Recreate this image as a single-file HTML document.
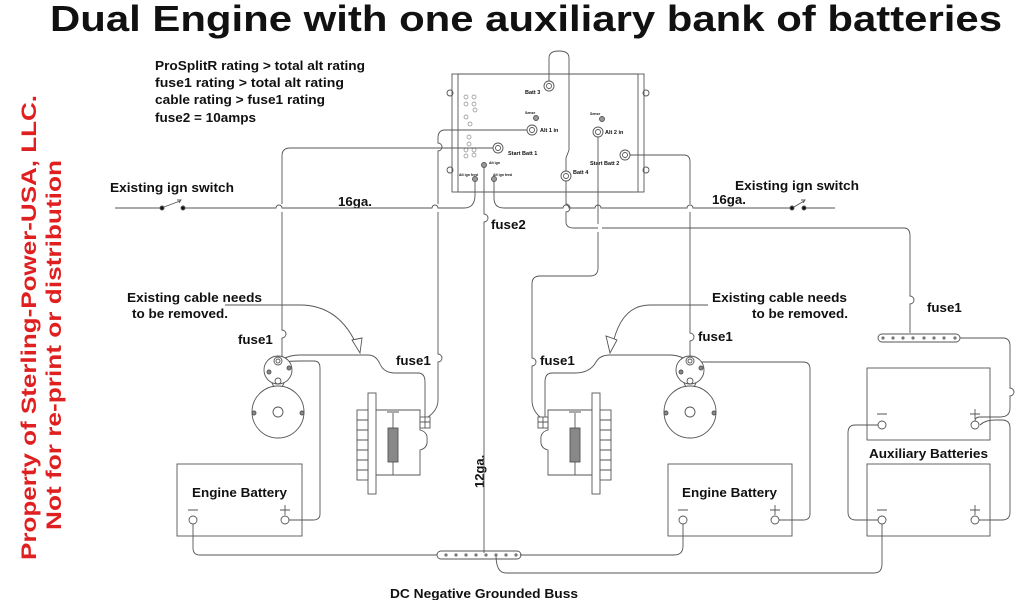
<!DOCTYPE html>
<html><head><meta charset="utf-8"><style>
html,body{margin:0;padding:0;background:#fff;}
svg{display:block;}
text{font-family:"Liberation Sans",Arial,sans-serif;font-weight:bold;fill:#111;}
</style></head><body>
<svg width="1024" height="600" viewBox="0 0 1024 600" xmlns="http://www.w3.org/2000/svg">
<defs>
<g id="starter" fill="none" stroke="#555" stroke-width="0.9">
  <circle cx="0" cy="10" r="14" fill="#fff"/>
  <path d="M-6 23 L-4 27 M6 23 L4 27"/>
  <circle cx="0" cy="52" r="26" fill="#fff"/>
  <circle cx="0" cy="52" r="5"/>
  <circle cx="0" cy="1" r="4"/><circle cx="0" cy="1" r="2"/>
  <circle cx="0" cy="21" r="3"/>
  <circle cx="-9" cy="12" r="2" fill="#888"/><circle cx="11" cy="8" r="2" fill="#888"/>
  <circle cx="-24" cy="53" r="2" fill="#888"/><circle cx="24" cy="53" r="2" fill="#888"/>
</g>
<g id="alt" fill="none" stroke="#555" stroke-width="0.9">
  <rect x="368" y="393" width="8" height="101" fill="#fff"/>
  <rect x="357" y="410" width="11" height="70" fill="#fff"/>
  <path d="M357 420h11M357 430h11M357 440h11M357 450h11M357 460h11M357 470h11"/>
  <path d="M376 410 H420 V430 Q428 432 427 440 Q428 448 420 450 V475 H376"/>
  <rect x="388" y="428" width="10" height="34" fill="#888"/>
  <path d="M393 413v15M393 462v13M387 412h12M387 475h12"/>
  <rect x="420" y="417" width="10" height="11" fill="#fff"/>
  <path d="M420 422h10M425 417v11"/>
</g>
</defs>

<text x="526" y="31" font-size="36" text-anchor="middle" textLength="952" lengthAdjust="spacingAndGlyphs">Dual Engine with one auxiliary bank of batteries</text>

<g transform="translate(36,560) rotate(-90)"><text x="0" y="0" font-size="21" style="fill:#e02020" textLength="465" lengthAdjust="spacingAndGlyphs">Property of Sterling-Power-USA, LLC.</text></g>
<g transform="translate(61,530) rotate(-90)"><text x="0" y="0" font-size="21" style="fill:#e02020" textLength="370" lengthAdjust="spacingAndGlyphs">Not for re-print or distribution</text></g>

<g font-size="13.3">
<text x="155" y="70" textLength="210" lengthAdjust="spacingAndGlyphs">ProSplitR rating &gt; total alt rating</text>
<text x="155" y="87" textLength="189" lengthAdjust="spacingAndGlyphs">fuse1 rating &gt; total alt rating</text>
<text x="155" y="104" textLength="170" lengthAdjust="spacingAndGlyphs">cable rating &gt; fuse1 rating</text>
<text x="155" y="122" textLength="101" lengthAdjust="spacingAndGlyphs">fuse2 = 10amps</text>
<text x="110" y="192" textLength="124" lengthAdjust="spacingAndGlyphs">Existing ign switch</text>
<text x="735" y="190" textLength="124" lengthAdjust="spacingAndGlyphs">Existing ign switch</text>
<text x="338" y="206">16ga.</text>
<text x="712" y="204">16ga.</text>
<text x="491" y="229">fuse2</text>
<text x="127" y="302" textLength="135" lengthAdjust="spacingAndGlyphs">Existing cable needs</text>
<text x="132" y="318" textLength="96" lengthAdjust="spacingAndGlyphs">to be removed.</text>
<text x="712" y="302" textLength="135" lengthAdjust="spacingAndGlyphs">Existing cable needs</text>
<text x="752" y="318" textLength="96" lengthAdjust="spacingAndGlyphs">to be removed.</text>
<text x="238" y="344">fuse1</text>
<text x="396" y="365">fuse1</text>
<text x="540" y="365">fuse1</text>
<text x="698" y="341">fuse1</text>
<text x="927" y="312">fuse1</text>
<text x="192" y="497" textLength="95" lengthAdjust="spacingAndGlyphs">Engine Battery</text>
<text x="682" y="497" textLength="95" lengthAdjust="spacingAndGlyphs">Engine Battery</text>
<text x="869" y="458" textLength="119" lengthAdjust="spacingAndGlyphs">Auxiliary Batteries</text>
<text x="390" y="598" textLength="188" lengthAdjust="spacingAndGlyphs">DC Negative Grounded Buss</text>
</g>
<g transform="translate(484,488) rotate(-90)"><text x="0" y="0" font-size="13">12ga.</text></g>

<!-- ProSplitR -->
<g fill="none" stroke="#555" stroke-width="0.9">
<rect x="452" y="74" width="192" height="118"/>
<rect x="458" y="74" width="180" height="118"/>
<circle cx="450" cy="93" r="3"/><circle cx="450" cy="170" r="3"/>
<circle cx="646" cy="93" r="3"/><circle cx="646" cy="170" r="3"/>
<g stroke="#888" stroke-width="0.7">
<circle cx="466" cy="97" r="2"/><circle cx="474" cy="97" r="2"/><circle cx="466" cy="104" r="2"/><circle cx="474" cy="104" r="2"/><circle cx="475" cy="110" r="2"/>
<circle cx="466" cy="117" r="2"/><circle cx="470" cy="124" r="2"/><circle cx="469" cy="137" r="2"/><circle cx="469" cy="144" r="2"/>
<circle cx="466" cy="150" r="2"/><circle cx="474" cy="150" r="2"/><circle cx="466" cy="156" r="2"/><circle cx="474" cy="155" r="2"/>
</g>
<circle cx="549" cy="86" r="5"/><circle cx="549" cy="86" r="2.5"/>
<circle cx="532" cy="130" r="5"/><circle cx="532" cy="130" r="2.5"/>
<circle cx="498" cy="148" r="5"/><circle cx="498" cy="148" r="2.5"/>
<circle cx="566" cy="176" r="5"/><circle cx="566" cy="176" r="2.5"/>
<circle cx="598" cy="132" r="5"/><circle cx="598" cy="132" r="2.5"/>
<circle cx="625" cy="155" r="5"/><circle cx="625" cy="155" r="2.5"/>
<circle cx="536" cy="118" r="2.5" fill="#999"/><circle cx="602" cy="119" r="2.5" fill="#999"/>
<circle cx="484" cy="165" r="2.5" fill="#999"/><circle cx="475" cy="179" r="2.5" fill="#999"/><circle cx="494" cy="179" r="2.5" fill="#999"/>
</g>
<g font-size="5.5">
<text x="525" y="94">Batt 3</text><text x="540" y="132">Alt 1 in</text><text x="508" y="155">Start Batt 1</text>
<text x="573" y="174">Batt 4</text><text x="605" y="134">Alt 2 in</text><text x="590" y="165">Start Batt 2</text>
<text x="525" y="114" font-size="3.5">Sense</text><text x="590" y="115" font-size="3.5">Sense</text>
<text x="489" y="164" font-size="3.5">Alt ign</text><text x="459" y="176" font-size="3.5">Alt ign feed</text><text x="493" y="176" font-size="3.5">Alt ign feed</text>
</g>

<!-- wires -->
<g fill="none" stroke="#555" stroke-width="0.9">
<path d="M549 81 V58 Q549 51 559 51 Q569 51 569 58 V150 L566 158 V171"/>
<path d="M566 181 V204 a3 3 0 0 1 0 8 V222 Q566 228 574 228 H598 M602 228 H904 Q910 228 910 236 V296 a4 4 0 0 1 0 8 V333"/>
<path d="M115 208 H160 M185 208 H276 a3 3 0 0 1 6 0 H432 a3 3 0 0 1 6 0 H464 Q475 208 475 195 V182"/>
<circle cx="162" cy="208" r="2" fill="#111"/><circle cx="183" cy="208" r="2" fill="#111"/>
<path d="M164 207 L180 201 M177 200 L181 200 L179 203"/>
<path d="M494 182 V198 Q494 208 504 208 H563 a3 3 0 0 1 6 0 H595 a3 3 0 0 1 6 0 H687 a3 3 0 0 1 6 0 H790 M806 208 H835"/>
<circle cx="792" cy="208" r="2" fill="#111"/><circle cx="804" cy="208" r="2" fill="#111"/>
<path d="M794 207 L804 201 M801 200 L805 200 L803 203"/>
<path d="M484 168 V214 a4 4 0 0 1 0 8 V553"/>
<path d="M493 148 H290 Q282 148 282 156 V204 M282 212 V330 a4 4 0 0 1 0 8 V361 L279 362"/>
<path d="M527 130 H445 Q438 130 438 138 V143 a3 3 0 0 1 0 8 V204 M438 212 V354 a4 4 0 0 1 0 8 V400 Q438 410 428 417"/>
<path d="M630 155 H684 Q690 155 690 162 V204 M690 212 V333 a4 4 0 0 1 0 8 V357"/>
<path d="M598 137 V224 M598 232 V268 Q598 276 590 276 H540 Q532 276 532 284 V358 a4 4 0 0 1 0 8 V400 Q532 410 540 417"/>
<path d="M283 359 Q290 355 300 355 H368 Q376 355 380 364 Q384 373 395 373 H418 Q425 373 425 382 V417"/>
<path d="M685 359 Q678 355 670 355 H610 Q600 355 596 362 Q590 373 575 373 H552 Q545 373 545 382 V417"/>
<path d="M225 305 H300 Q340 305 358 348"/>
<path d="M352 340 L360 353 L362 338 Z" fill="#fff"/>
<path d="M708 305 H650 Q620 305 612 348"/>
<path d="M606 336 L610 353 L617 340 Z" fill="#fff"/>
<path d="M283 362 Q290 361 300 361 H314 Q320 361 320 368 V514 Q320 520 313 520 H289"/>
<path d="M695 362 H803 Q810 362 810 369 V514 Q810 520 803 520 H779"/>
<path d="M193 524 V548 Q193 555 200 555 H437"/>
<path d="M520 555 H674 Q683 555 683 546 V524"/>
<path d="M496 555 Q496 573 506 573 H874 Q882 573 882 564 V524"/>
<rect x="437" y="551" width="84" height="8" rx="4"/>
<rect x="878" y="334" width="82" height="8" rx="4"/>
<path d="M960 338 H1003 Q1010 338 1010 346 V388 a4 4 0 0 1 0 8 V408 Q1010 417 1000 417 H980 Q975 417 975 421"/>
<path d="M878 425 H855 Q848 425 848 433 V512 Q848 520 856 520 H878"/>
<path d="M980 425 Q985 420 995 420 H1002 Q1010 420 1010 428 V512 Q1010 520 1002 520 H979"/>
<rect x="177" y="464" width="125" height="72"/>
<rect x="668" y="464" width="124" height="72"/>
<rect x="867" y="368" width="123" height="72"/>
<rect x="867" y="464" width="123" height="72"/>
<circle cx="193" cy="520" r="4"/><circle cx="285" cy="520" r="4"/>
<circle cx="683" cy="520" r="4"/><circle cx="775" cy="520" r="4"/>
<circle cx="882" cy="425" r="4"/><circle cx="975" cy="425" r="4"/>
<circle cx="882" cy="520" r="4"/><circle cx="975" cy="520" r="4"/>
<path d="M188 510h10M280 510h10M285 505v10 M678 510h10M770 510h10M775 505v10 M877 414h10M970 414h10M975 409v10 M877 510h10M970 510h10M975 505v10"/>
</g>
<g fill="#777">
<circle cx="446" cy="555" r="1.6"/><circle cx="456" cy="555" r="1.6"/><circle cx="466" cy="555" r="1.6"/><circle cx="476" cy="555" r="1.6"/><circle cx="486" cy="555" r="1.6"/><circle cx="496" cy="555" r="1.6"/><circle cx="506" cy="555" r="1.6"/><circle cx="516" cy="555" r="1.6"/>
<circle cx="883" cy="338" r="1.6"/><circle cx="893" cy="338" r="1.6"/><circle cx="903" cy="338" r="1.6"/><circle cx="913" cy="338" r="1.6"/><circle cx="924" cy="338" r="1.6"/><circle cx="934" cy="338" r="1.6"/><circle cx="944" cy="338" r="1.6"/><circle cx="955" cy="338" r="1.6"/>
</g>
<use href="#starter" x="278" y="360"/>
<use href="#starter" x="690" y="360"/>
<use href="#alt"/>
<use href="#alt" transform="translate(968,0) scale(-1,1)"/>
</svg>
</body></html>
